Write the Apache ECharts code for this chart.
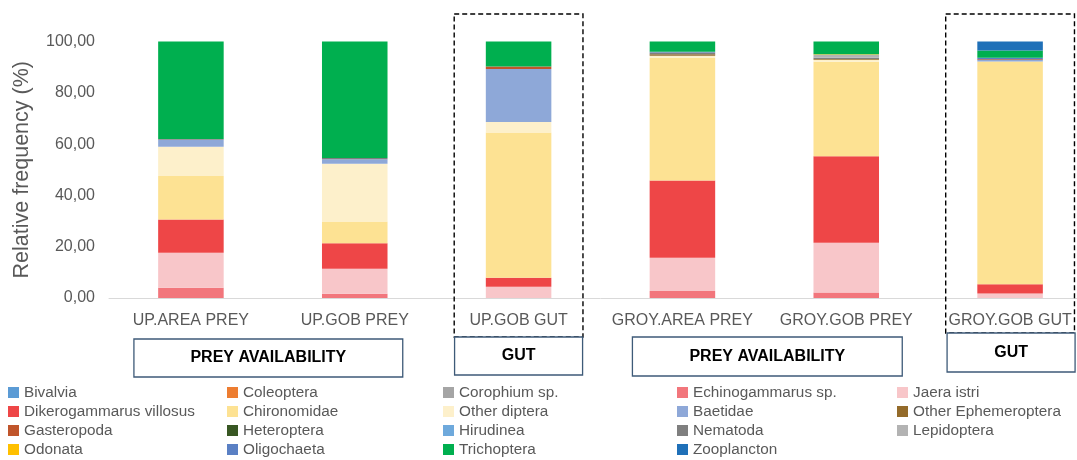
<!DOCTYPE html>
<html>
<head>
<meta charset="utf-8">
<script src="https://cdn.jsdelivr.net/npm/echarts@6/dist/echarts.min.js"></script>
<style>
  html, body { margin: 0; padding: 0; background: #ffffff; overflow: hidden; }
  /* the plot runs slightly past the right edge of the window */
  #chart { width: 1093px; height: 460px; }
</style>
</head>
<body>
<div id="chart"></div>
<script>
// Sampling sites / sample types
const categories = ['UP.AREA PREY', 'UP.GOB PREY', 'UP.GOB GUT', 'GROY.AREA PREY', 'GROY.GOB PREY', 'GROY.GOB GUT'];

// Relative frequency (%) of each prey taxon, one value per category
const bivalvia       = [0, 0, 0, 0, 0, 0];
const coleoptera     = [0, 0, 0, 0, 0, 0];
const corophium      = [0, 0, 0, 0, 0, 0];
const echinogammarus = [4.0, 1.7, 0, 2.7, 2.1, 0];
const jaeraIstri     = [13.6, 9.7, 4.4, 13.0, 19.4, 1.8];
const dikerogammarus = [13.0, 9.9, 3.5, 30.1, 33.8, 3.6];
const chironomidae   = [17.0, 8.5, 56.6, 47.9, 36.8, 86.8];
const otherDiptera   = [11.4, 22.5, 4.1, 0.7, 0.8, 0];
const baetidae       = [2.7, 1.8, 20.7, 0, 0, 0.6];
const otherEphem     = [0, 0, 0, 0.6, 0.3, 0];
const gasteropoda    = [0, 0, 1.0, 0, 0, 0.3];
const heteroptera    = [0, 0, 0, 0, 0, 0];
const hirudinea      = [0, 0, 0, 0, 0, 0];
const nematoda       = [0.3, 0.5, 0, 0.7, 0.5, 0];
const lepidoptera    = [0, 0, 0, 0, 1.1, 0];
const odonata        = [0, 0, 0, 0, 0.2, 0];
const oligochaeta    = [0, 0, 0, 0.3, 0, 0.6];
const trichoptera    = [38.0, 45.4, 9.7, 4.0, 5.0, 2.8];
const zooplancton    = [0, 0, 0, 0, 0, 3.5];

// Y axis tick values
const yTicks = [0, 20, 40, 60, 80, 100];

// Group brackets under the axis
const groups = [
  { label: 'PREY AVAILABILITY', first: 0, last: 1, padL: 57, padR: 48, top: 339, h: 38 },
  { label: 'GUT',               first: 2, last: 2, padL: 64, padR: 64, top: 337, h: 38 },
  { label: 'PREY AVAILABILITY', first: 3, last: 4, padL: 50, padR: 56, top: 337, h: 39 },
  { label: 'GUT',               first: 5, last: 5, padL: 63, padR: 65, top: 333, h: 39 }
];
// Categories outlined with a dashed frame
const framed = [2, 5];

// Stacking order, bottom to top
const taxa = [
  ['Bivalvia', bivalvia, '#5B9BD5'],
  ['Coleoptera', coleoptera, '#ED7D31'],
  ['Corophium sp.', corophium, '#A5A5A5'],
  ['Echinogammarus sp.', echinogammarus, '#F2767C'],
  ['Jaera istri', jaeraIstri, '#F8C6C9'],
  ['Dikerogammarus villosus', dikerogammarus, '#EE4647'],
  ['Chironomidae', chironomidae, '#FDE293'],
  ['Other diptera', otherDiptera, '#FDF0CB'],
  ['Baetidae', baetidae, '#8EA8D8'],
  ['Other Ephemeroptera', otherEphem, '#946B2A'],
  ['Gasteropoda', gasteropoda, '#C0552B'],
  ['Heteroptera', heteroptera, '#385723'],
  ['Hirudinea', hirudinea, '#6EA9DC'],
  ['Nematoda', nematoda, '#7F7F7F'],
  ['Lepidoptera', lepidoptera, '#B3B3B3'],
  ['Odonata', odonata, '#FFC000'],
  ['Oligochaeta', oligochaeta, '#5A80C4'],
  ['Trichoptera', trichoptera, '#00AF4F'],
  ['Zooplancton', zooplancton, '#1F70B8']
];

// Legend laid out in five columns, filled row by row
const legendCols = [[], [], [], [], []];
taxa.forEach((t, i) => legendCols[i % 5].push(t[0]));
const legendLeft = [8, 227, 443, 677, 897];

const FONT = '"Liberation Sans", Arial, sans-serif';
const GREY = '#595959';

const chart = echarts.init(document.getElementById('chart'), null, { renderer: 'canvas' });

const option = {
  animation: false,
  backgroundColor: '#ffffff',
  textStyle: { fontFamily: FONT },
  grid: { left: 109, top: 41.5, right: 1, bottom: 162, containLabel: false },
  xAxis: {
    type: 'category',
    data: categories,
    axisLine: { show: true, lineStyle: { color: '#D9D9D9', width: 1 } },
    axisTick: { show: false },
    axisLabel: { color: GREY, fontSize: 16, margin: 15, fontFamily: FONT, interval: 0 },
    splitLine: { show: false }
  },
  yAxis: {
    type: 'value',
    min: yTicks[0],
    max: yTicks[yTicks.length - 1],
    interval: yTicks[1] - yTicks[0],
    name: 'Relative frequency (%)',
    nameLocation: 'middle',
    nameGap: 76,
    nameTextStyle: { color: GREY, fontSize: 21.5, fontFamily: FONT },
    axisLine: { show: false },
    axisTick: { show: false },
    splitLine: { show: false },
    axisLabel: {
      color: GREY, fontSize: 16, margin: 14, fontFamily: FONT,
      formatter: v => v.toFixed(2).replace('.', ',')
    }
  },
  legend: legendCols.map((names, c) => ({
    data: names,
    orient: 'vertical',
    left: legendLeft[c],
    top: 383,
    itemWidth: 11,
    itemHeight: 11,
    itemGap: 0,
    icon: 'rect',
    selectedMode: false,
    padding: 0,
    textStyle: { color: GREY, fontSize: 15.3, fontFamily: FONT, lineHeight: 19 }
  })),
  series: taxa.map(([name, data, color]) => ({
    name: name,
    type: 'bar',
    stack: 'total',
    barWidth: '40%',
    data: data,
    itemStyle: { color: color },
    emphasis: { disabled: true }
  }))
};

chart.setOption(option);

// Frames and group brackets positioned from the category axis
const band = chart.getWidth() === 0 ? 0 : (chart.getWidth() - 109 - 1) / categories.length;
const cx = i => chart.convertToPixel({ xAxisIndex: 0 }, categories[i]);
const graphics = [];

framed.forEach(i => {
  const g = groups.find(gr => gr.first === i);
  const half = band * 0.393;
  graphics.push({
    type: 'rect',
    z: 50,
    shape: { x: cx(i) - half, y: 14, width: half * 2, height: g.top - 14 },
    style: { fill: null, stroke: '#000000', lineWidth: 1.4, lineDash: [5, 3] }
  });
});

groups.forEach(g => {
  const x0 = cx(g.first) - g.padL;
  const x1 = cx(g.last) + g.padR;
  graphics.push({
    type: 'rect',
    z: 60,
    shape: { x: x0, y: g.top, width: x1 - x0, height: g.h },
    style: { fill: '#ffffff', stroke: '#3E5A78', lineWidth: 1.3 }
  });
  graphics.push({
    type: 'text',
    z: 61,
    x: (x0 + x1) / 2,
    y: g.top + g.h / 2,
    style: {
      text: g.label,
      fill: '#000000',
      font: 'bold 16px ' + FONT,
      align: 'center',
      verticalAlign: 'middle'
    }
  });
});

chart.setOption({ graphic: graphics });
</script>
</body>
</html>
